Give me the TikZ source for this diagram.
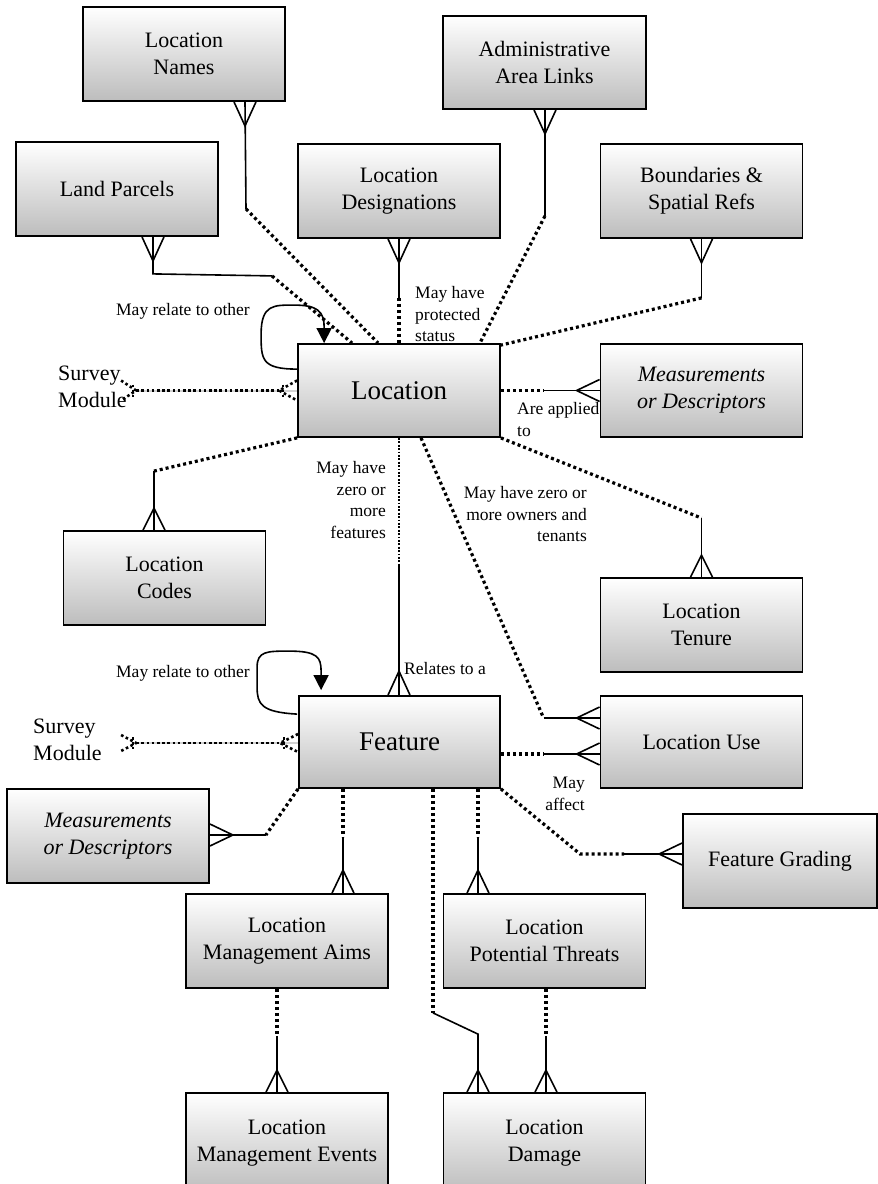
\documentclass[tikz,border=0pt]{standalone}
\usepackage{fontspec}
\setmainfont{Liberation Serif}
\usetikzlibrary{calc,arrows.meta}
\newcommand\boxfnt{\fontsize{22}{27}\selectfont}
\newcommand\bigfnt{\fontsize{27}{32}\selectfont}
\newcommand\lblfnt{\fontsize{17.5}{21.7}\selectfont}
% crow's feet: #1 = point on the box edge, #2 = apex on the line
\newcommand\crowV[2]{\draw[link] ($(#1)+(-11,0)$) -- (#2) -- ($(#1)+(11,0)$);}
\newcommand\crowH[2]{\draw[link] ($(#1)+(0,-11)$) -- (#2) -- ($(#1)+(0,11)$);}
\begin{document}
\begin{tikzpicture}[x=1pt,y=-1pt,
  box/.style={draw=black, line width=1.8pt, top color=white, bottom color=gray!52,
    minimum width=202pt, minimum height=94pt, align=center, font=\boxfnt, inner sep=0pt},
  mainbox/.style={box, font=\bigfnt},
  itbox/.style={box, font=\boxfnt\itshape},
  lbl/.style={font=\lblfnt, inner sep=0pt},
  link/.style={line width=1.6pt, line join=miter},
  dots/.style={line width=3.2pt, dash pattern=on 3pt off 3pt},
  fine/.style={line width=1.8pt, dash pattern=on 1.8pt off 1.6pt},
  sdots/.style={line width=2.6pt, dash pattern=on 2.6pt off 2.6pt},
  loop/.style={line width=1.6pt, -{Triangle[length=15pt,width=15pt]}}]
\useasboundingbox (0,0) rectangle (878,1184);

% entities
\node[box] (names) at (184,54) {Location\\Names};
\node[box] (parcels) at (117,189) {Land Parcels};
\node[box] (desig) at (399,191) {Location\\Designations};
\node[box, minimum width=203pt, minimum height=93pt] (admin) at (544.5,62.5) {Administrative\\Area Links};
\node[box] (bound) at (701.5,191) {Boundaries \&\\Spatial Refs};
\node[mainbox, minimum height=93pt] (loc) at (399,390.5) {Location};
\node[itbox, minimum height=93pt] (measR) at (701.5,390.5) {Measurements\\or Descriptors};
\node[box] (codes) at (164.5,578) {Location\\Codes};
\node[box] (tenure) at (701.5,625) {Location\\Tenure};
\node[mainbox, minimum width=201pt, minimum height=92pt] (feature) at (399.5,742) {Feature};
\node[box, minimum height=92pt] (use) at (701.5,742) {Location Use};
\node[itbox] (measL) at (108,836) {Measurements\\or Descriptors};
\node[box, minimum width=194pt] (grading) at (780,861) {Feature Grading};
\node[box] (aims) at (287,941) {Location\\Management Aims};
\node[box] (threats) at (544.5,941) {Location\\Potential Threats};
\node[box, minimum height=100pt] (events) at (287,1143) {Location\\Management Events};
\node[box, minimum height=100pt] (damage) at (544.5,1143) {Location\\Damage};

% free texts
\node[font=\boxfnt, align=left, anchor=north west, inner sep=0pt] (survT) at (58,366) {Survey\\Module};
\node[font=\boxfnt, align=left, anchor=north west, inner sep=0pt] (survB) at (33,719) {Survey\\Module};
\node[lbl, anchor=base east] (lrelT) at (250,315) {May relate to other};
\node[lbl, anchor=base east] (lrelB) at (250,677) {May relate to other};
\node[lbl, align=left, anchor=north west] (lprot) at (415,286) {May have\\protected\\status};
\node[lbl, align=left, anchor=north west] (lappl) at (517,402) {Are applied\\to};
\node[lbl, align=right, anchor=north east] (lown) at (587,486) {May have zero or\\more owners and\\tenants};
\node[lbl, align=right, anchor=north east] (lfeat) at (386,461) {May have\\zero or\\more\\features};
\node[lbl, anchor=base west] (lrel) at (404,674) {Relates to a};
\node[lbl, align=right, anchor=north east] (laff) at (585,777) {May\\affect};

% Location Names
\coordinate (nmE) at ($(names.south)+(61,0)$);
\coordinate (nmB) at ($(nmE)+(1,107)$);
\crowV{nmE}{$(nmE)+(0,24)$}
\draw[link] (nmE) -- (nmB);
\draw[dots] (nmB) -- ($(loc.north west)+(81,0)$);

% Land Parcels
\coordinate (lpE) at ($(parcels.south)+(36,0)$);
\coordinate (lpB) at ($(lpE)+(119,39)$);
\crowV{lpE}{$(lpE)+(0,24)$}
\draw[link] (lpE) -- ++(0,37) -- (lpB);
\draw[dots] (lpB) -- ($(loc.north west)+(55,0)$);

% Location Designations
\coordinate (ldB) at ($(desig.south)+(0,59)$);
\crowV{desig.south}{$(desig.south)+(0,24)$}
\draw[link] (desig.south) -- (ldB);
\draw[dots] (ldB) -- (loc.north);

% Administrative Area Links
\coordinate (adE) at ($(admin.south)+(0.5,0)$);
\coordinate (adB) at ($(adE)+(0,106)$);
\crowV{adE}{$(adE)+(0,24)$}
\draw[link] (adE) -- (adB);
\draw[dots] (adB) -- ($(loc.north east)+(-21,0)$);

% Boundaries & Spatial Refs
\coordinate (bdB) at ($(bound.south)+(0,59)$);
\crowV{bound.south}{$(bound.south)+(0,24)$}
\draw[link] (bound.south) -- (bdB);
\draw[dots] (bdB) -- ($(loc.north east)+(0,2)$);

% Measurements or Descriptors (right)
\coordinate (mrB) at ($(loc.east)+(43,0)$);
\draw[dots] (loc.east) -- (mrB);
\draw[link] (mrB) -- (measR.west);
\crowH{measR.west}{$(measR.west)+(-23,0)$}

% Location Tenure
\coordinate (tnB) at ($(tenure.north)+(0,-59)$);
\draw[dots] (loc.south east) -- (tnB);
\draw[link] (tnB) -- (tenure.north);
\crowV{tenure.north}{$(tenure.north)+(0,-22)$}

% Location Codes
\coordinate (lcE) at ($(codes.north)+(-10.5,0)$);
\coordinate (lcB) at ($(lcE)+(0,-59)$);
\draw[dots] (loc.south west) -- (lcB);
\draw[link] (lcB) -- (lcE);
\crowV{lcE}{$(lcE)+(0,-22)$}

% Location -> Feature
\coordinate (lfB) at ($(loc.south)+(0,127)$);
\draw[fine] (loc.south) -- (lfB);
\draw[link] (lfB) -- (lfB |- feature.north);
\crowV{lfB |- feature.north}{$(lfB |- feature.north)+(0,-24)$}

% Location -> Location Use
\coordinate (luS) at ($(loc.south)+(22,0)$);
\coordinate (luE) at ($(use.west)+(0,-24)$);
\coordinate (luB) at ($(luE)+(-56,0)$);
\draw[dots] (luS) -- (luB);
\draw[link] (luB) -- (luE);
\crowH{luE}{$(luE)+(-23,0)$}

% Feature -> Location Use
\coordinate (fuS) at ($(feature.east)+(0,12)$);
\coordinate (fuE) at ($(use.west)+(0,12)$);
\draw[dots] (fuS) -- ($(fuS)+(43,0)$);
\draw[link] ($(fuS)+(43,0)$) -- (fuE);
\crowH{fuE}{$(fuE)+(-23,0)$}

% Feature -> Feature Grading
\coordinate (fgE) at ($(grading.west)+(0,-7)$);
\coordinate (fgB) at ($(fgE)+(-58,0)$);
\draw[dots] (feature.south east) -- ($(fgE)+(-102,0)$) -- (fgB);
\draw[link] (fgB) -- (fgE);
\crowH{fgE}{$(fgE)+(-23,0)$}

% Feature -> Measurements or Descriptors (left)
\coordinate (mlE) at ($(measL.east)+(0,-1)$);
\coordinate (mlB) at ($(mlE)+(56,0)$);
\draw[dots] (feature.south west) -- (mlB);
\draw[link] (mlB) -- (mlE);
\crowH{mlE}{$(mlE)+(23,0)$}

% Feature -> Location Management Aims
\coordinate (faS) at ($(feature.south)+(-56.5,0)$);
\coordinate (faE) at ($(aims.north)+(56,0)$);
\draw[dots] (faS) -- ($(faS)+(0,48)$);
\draw[link] ($(faS)+(0,48)$) -- (faE);
\crowV{faE}{$(faE)+(0,-23)$}

% Feature -> Location Potential Threats
\coordinate (ftS) at ($(feature.south)+(78.5,0)$);
\coordinate (ftE) at ($(threats.north)+(-66.5,0)$);
\draw[dots] (ftS) -- ($(ftS)+(0,48)$);
\draw[link] ($(ftS)+(0,48)$) -- (ftE);
\crowV{ftE}{$(ftE)+(0,-23)$}

% Feature -> Location Damage
\coordinate (fdS) at ($(feature.south)+(33.5,0)$);
\coordinate (fdB) at ($(fdS)+(0,224)$);
\coordinate (fdE) at ($(damage.north)+(-66.5,0)$);
\draw[dots] (fdS) -- (fdB);
\draw[link] (fdB) -- ($(fdE)+(0,-58)$) -- (fdE);
\crowV{fdE}{$(fdE)+(0,-22)$}

% Potential Threats -> Damage
\coordinate (tdS) at ($(threats.south)+(1.5,0)$);
\coordinate (tdE) at ($(damage.north)+(1.5,0)$);
\draw[dots] (tdS) -- ($(tdS)+(0,47)$);
\draw[link] ($(tdS)+(0,47)$) -- (tdE);
\crowV{tdE}{$(tdE)+(0,-22)$}

% Management Aims -> Management Events
\coordinate (aeS) at ($(aims.south)+(-10,0)$);
\coordinate (aeE) at ($(events.north)+(-10,0)$);
\draw[dots] (aeS) -- ($(aeS)+(0,47)$);
\draw[link] ($(aeS)+(0,47)$) -- (aeE);
\crowV{aeE}{$(aeE)+(0,-22)$}

% Survey Module <-> Location
\coordinate (svT) at ($(loc.west)+(-161,0)$);
\draw[line width=2pt, gray!35] (svT) -- (loc.west);
\draw[sdots] (svT) -- ($(loc.west)+(-18,0)$);
\draw[sdots] ($(loc.west)+(0,-10)$) -- ($(loc.west)+(-18,0)$) -- ($(loc.west)+(0,10)$);
\draw[sdots] ($(loc.west)+(-14,-6)$) -- ($(loc.west)+(-14,6)$);
\draw[sdots] ($(svT)+(-15,-10)$) -- (svT) -- ($(svT)+(-15,10)$);
\draw[sdots] ($(svT)+(-3,-6)$) -- ($(svT)+(-3,6)$);

% Survey Module <-> Feature
\coordinate (svB) at ($(feature.west)+(-162,1)$);
\coordinate (fwB) at ($(feature.west)+(0,1)$);
\draw[line width=2pt, gray!35] (svB) -- (fwB);
\draw[sdots] (svB) -- ($(fwB)+(-18,0)$);
\draw[sdots] ($(fwB)+(0,-9)$) -- ($(fwB)+(-18,0)$) -- ($(fwB)+(0,9)$);
\draw[sdots] ($(fwB)+(-14,-6)$) -- ($(fwB)+(-14,6)$);
\draw[sdots] ($(svB)+(-15,-8)$) -- (svB) -- ($(svB)+(-15,8)$);
\draw[sdots] ($(svB)+(-3,-6)$) -- ($(svB)+(-3,6)$);

% self relations
\draw[loop] ($(loc.north west)+(0,26)$) .. controls ($(loc.north west)+(-36,26)$) and ($(loc.north west)+(-36,16)$) .. ($(loc.north west)+(-36,-9)$)
  .. controls ($(loc.north west)+(-36,-39)$) and ($(loc.north west)+(-23,-38)$) .. ($(loc.north west)+(-3,-38)$)
  .. controls ($(loc.north west)+(20,-38)$) and ($(loc.north west)+(27,-32)$) .. ($(loc.north west)+(27,-16)$)
  -- ($(loc.north west)+(27,0)$);
\draw[loop] ($(feature.north west)+(-1,19)$) .. controls ($(feature.north west)+(-37,17)$) and ($(feature.north west)+(-41,9)$) .. ($(feature.north west)+(-41,-8)$)
  -- ($(feature.north west)+(-41,-28)$)
  .. controls ($(feature.north west)+(-41,-44)$) and ($(feature.north west)+(-31,-44)$) .. ($(feature.north west)+(-9,-44)$)
  .. controls ($(feature.north west)+(19,-44)$) and ($(feature.north west)+(23,-38)$) .. ($(feature.north west)+(23,-24)$)
  -- ($(feature.north west)+(23,-5)$);
\end{tikzpicture}
\end{document}
